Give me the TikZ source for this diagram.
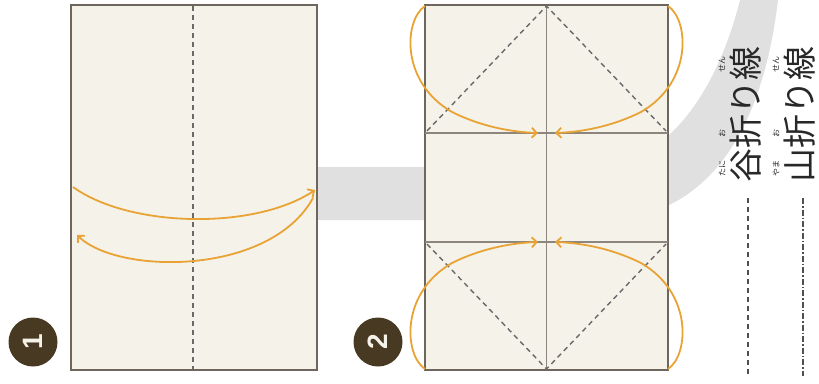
\documentclass[tikz,border=0pt]{standalone}
\usepackage{fontspec}
\newfontfamily\jp{Noto Sans CJK JP}
\newfontfamily\numf{Liberation Sans}
\usetikzlibrary{arrows.meta}
\definecolor{paper}{RGB}{245,242,234}
\definecolor{edge}{RGB}{110,102,92}
\definecolor{crease}{RGB}{140,134,126}
\definecolor{fold}{RGB}{105,105,105}
\definecolor{orng}{RGB}{232,163,52}
\definecolor{band}{RGB}{224,224,224}
\definecolor{badge}{RGB}{72,58,34}
\definecolor{legend}{RGB}{80,80,80}
\definecolor{ink}{RGB}{40,40,40}
\begin{document}
\begin{tikzpicture}[x=1pt,y=-1pt,
  panel/.style={draw=edge,fill=paper,line width=2pt},
  creaseline/.style={draw=crease,line width=1.2pt},
  valley/.style={draw=fold,line width=1.4pt,dash pattern=on 5pt off 4pt},
  foldarrow/.style={draw=orng,line width=1.8pt,-{Straight Barb[length=5pt,width=10pt]}},
  badgenode/.style={circle,fill=badge,text=paper,minimum size=49pt,inner sep=0pt,rotate=90,
    font=\numf\bfseries\fontsize{28}{28}\selectfont},
  jptext/.style={rotate=90,inner sep=0pt,text=ink,font=\jp\fontsize{34}{34}\selectfont},
  rubytext/.style={rotate=90,inner sep=0pt,text=ink,font=\jp\fontsize{8}{8}\selectfont},
  valleyleg/.style={draw=legend,line width=1.3pt,dash pattern=on 5pt off 4pt},
  mountainleg/.style={draw=legend,line width=1.3pt,dash pattern=on 6pt off 2pt on 1.5pt off 2pt}
]
\useasboundingbox (0,0) rectangle (819,383);
% grey band
\fill[band] (300,167) -- (600,167) .. controls (675,160) and (720,80) .. (740,0)
  -- (778,0) .. controls (765,110) and (720,220) .. (600,220) -- (300,220) -- cycle;
% panel 1
\draw[panel] (71,5) rectangle (317,370);
\draw[valley] (193,6) -- (193,369);
\draw[foldarrow] (73,187) .. controls (130,228) and (255,230) .. (315,190);
\draw[foldarrow] (313,198) .. controls (270,276) and (118,275) .. (77,235);
% panel 2
\draw[panel] (425,5) rectangle (668,370);
\draw[creaseline] (425,133) -- (668,133);
\draw[creaseline] (425,242) -- (668,242);
\draw[creaseline] (546.5,5) -- (546.5,370);
\draw[valley] (427,131) -- (546.5,6) -- (666,131);
\draw[valley] (427,244) -- (546.5,369) -- (666,244);
\draw[foldarrow] (425,6) .. controls (404,20) and (400,82) .. (452,112)
  .. controls (480,126) and (510,132) .. (538,133);
\draw[foldarrow] (668,6) .. controls (689,20) and (693,82) .. (641,112)
  .. controls (613,126) and (583,132) .. (555,133);
\draw[foldarrow] (425,369) .. controls (404,355) and (400,293) .. (452,263)
  .. controls (480,249) and (510,243) .. (538,242);
\draw[foldarrow] (668,369) .. controls (689,355) and (693,293) .. (641,263)
  .. controls (613,249) and (583,243) .. (555,242);
% badges
\node[badgenode] (n1) at (33,342) {1};
\node[badgenode] (n2) at (378,342) {2};
% legend
\node[jptext] (tani) at (746,114) {谷折り線};
\node[jptext] (yama) at (800,114) {山折り線};
\node[rubytext] (r1) at (722,168) {たに};
\node[rubytext] (r2) at (722,133) {お};
\node[rubytext] (r3) at (722,64) {せん};
\node[rubytext] (r4) at (776,168) {やま};
\node[rubytext] (r5) at (776,133) {お};
\node[rubytext] (r6) at (776,64) {せん};
\coordinate (va) at (748,198);
\coordinate (vb) at (748,376);
\coordinate (ma) at (803,198);
\coordinate (mb) at (803,376);
\draw[valleyleg] (va) -- (vb);
\draw[mountainleg] (ma) -- (mb);
\end{tikzpicture}
\end{document}
